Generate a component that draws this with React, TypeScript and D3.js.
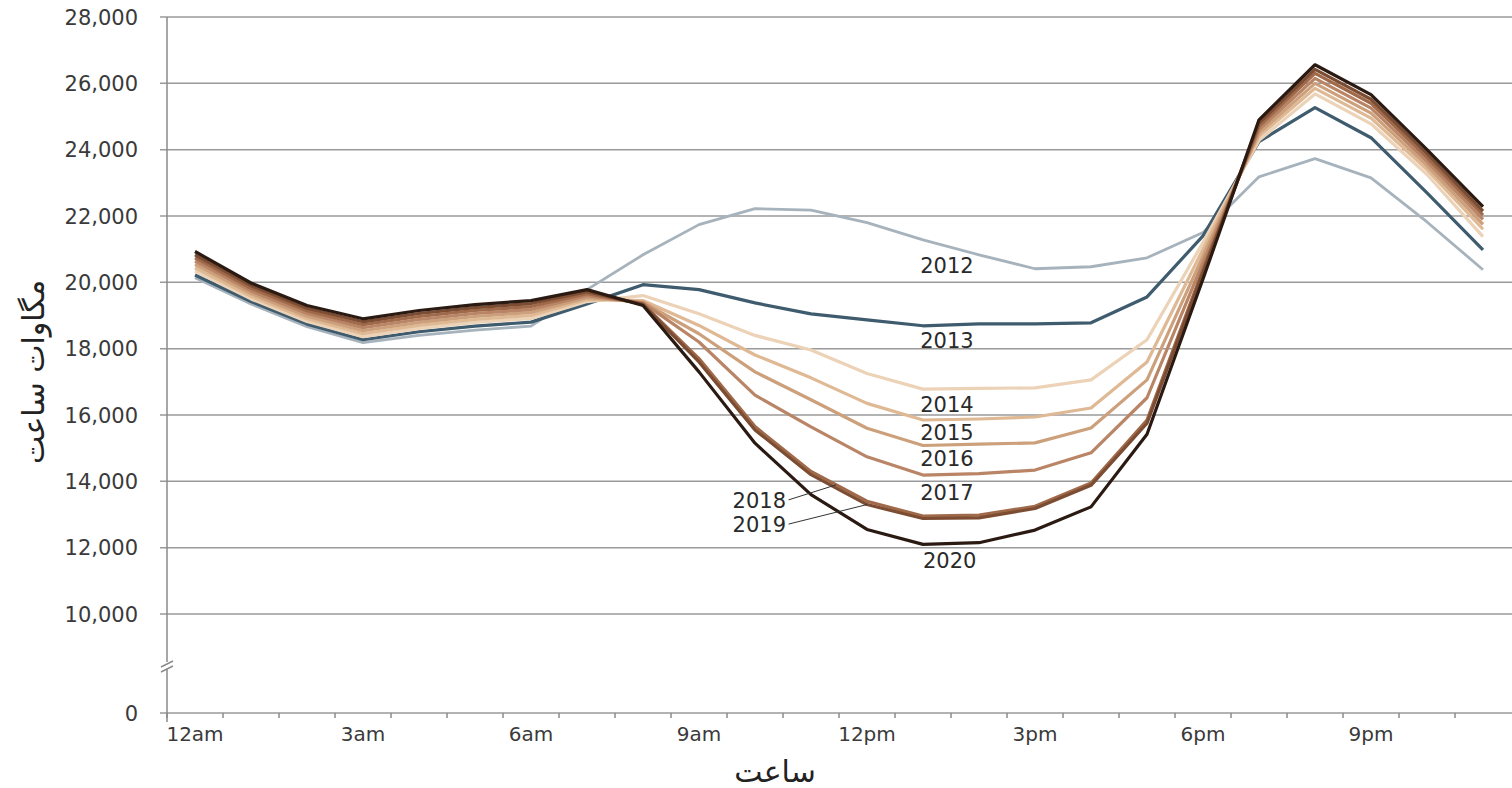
import { useEffect } from "react";
import * as d3 from "d3";

const HOURS = d3.range(24);
const HOUR_LABELS = ["12am", "3am", "6am", "9am", "12pm", "3pm", "6pm", "9pm"];
const Y_TICKS = [0, 10000, 12000, 14000, 16000, 18000, 20000, 22000, 24000, 26000, 28000];

const YEARS = ["2012", "2013", "2014", "2015", "2016", "2017", "2018", "2019", "2020"];

const load2012 = [20140, 19350, 18660, 18180, 18400, 18560, 18680, 19780, 20830, 21740, 22220, 22180, 21800, 21280, 20830, 20410, 20470, 20740, 21500, 23180, 23730, 23150, 21820, 20380];
const load2013 = [20220, 19420, 18740, 18270, 18510, 18680, 18800, 19350, 19930, 19780, 19380, 19050, 18870, 18690, 18750, 18750, 18780, 19560, 21400, 24240, 25270, 24360, 22700, 20980];
const load2014 = [20340, 19500, 18820, 18360, 18610, 18790, 18910, 19420, 19600, 19050, 18400, 17960, 17250, 16780, 16800, 16820, 17060, 18270, 21200, 24280, 25680, 24780, 23250, 21380];
const load2015 = [20440, 19580, 18900, 18450, 18700, 18880, 19000, 19480, 19450, 18700, 17810, 17120, 16350, 15850, 15880, 15940, 16210, 17600, 21000, 24400, 25850, 24950, 23400, 21600];
const load2016 = [20540, 19660, 18980, 18540, 18790, 18970, 19090, 19540, 19400, 18450, 17300, 16460, 15600, 15080, 15120, 15160, 15610, 17060, 20800, 24500, 26000, 25100, 23520, 21750];
const load2017 = [20640, 19740, 19060, 18630, 18880, 19060, 19180, 19600, 19380, 18200, 16600, 15640, 14740, 14190, 14230, 14340, 14860, 16520, 20600, 24600, 26150, 25250, 23640, 21900];
const load2018 = [20740, 19820, 19140, 18720, 18970, 19150, 19270, 19660, 19350, 17700, 15650, 14300, 13400, 12950, 12980, 13250, 13950, 15850, 20400, 24700, 26300, 25400, 23760, 22030];
const load2019 = [20830, 19900, 19220, 18810, 19060, 19240, 19360, 19720, 19330, 17600, 15550, 14200, 13300, 12880, 12900, 13180, 13880, 15750, 20300, 24800, 26420, 25520, 23880, 22150];
const load2020 = [20930, 19980, 19300, 18900, 19150, 19330, 19450, 19780, 19300, 17300, 15150, 13600, 12550, 12100, 12150, 12530, 13230, 15420, 20100, 24900, 26560, 25660, 24000, 22280];

const SERIES = [load2012, load2013, load2014, load2015, load2016, load2017, load2018, load2019, load2020];
const COLORS = ["#a7b3bc", "#3f5b6e", "#ecd2b6", "#dfb894", "#cda07c", "#b98566", "#a06a4a", "#7c4d33", "#2b1a12"];

// label anchors in data units: [hour, MW] (text start, baseline)
const LABEL_HOUR = [12.95, 12.95, 12.95, 12.95, 12.95, 12.95, 9.6, 9.6, 13.0];
const LABEL_MW = [20290, 18025, 16094, 15250, 14465, 13440, 13200, 12470, 11390];
// leader line targets for 2018, 2019
const LEADER_HOUR = [11.45, 12.0];

const W = 1512;
const H = 788;

export default function App() {
  useEffect(() => {
    document.body.style.margin = "0";
  }, []);

  const x = d3.scaleBand<number>().domain(HOURS).range([167, 1511]).padding(0);
  const bw = x.bandwidth();
  const px = (h: number) => (x(0) as number) + bw / 2 + h * bw;
  const y = d3.scaleLinear().domain([0, 10000, 28000]).range([713, 614, 17]);

  const line = d3
    .line<number>()
    .x((_, i) => px(i))
    .y((d) => y(d));

  const x0 = 167;
  const x1 = 1512;
  const font = "'DejaVu Sans', sans-serif";

  const interp = (arr: number[], h: number) => {
    const i = Math.floor(h);
    const t = h - i;
    return arr[i] * (1 - t) + arr[Math.min(i + 1, 23)] * t;
  };

  return (
    <svg width={W} height={H} style={{ position: "absolute", left: 0, top: 0, background: "#fff" }}>
      {/* grid */}
      {Y_TICKS.map((t) => (
        <g key={t}>
          <line x1={160} x2={x1} y1={y(t)} y2={y(t)} stroke="#9a9a9a" strokeWidth={1.5} />
          <text
            x={138}
            y={y(t)}
            dy="0.36em"
            textAnchor="end"
            fontFamily={font}
            fontSize={21}
            fill="#3a3a3a"
          >
            {d3.format(",")(t)}
          </text>
        </g>
      ))}
      {/* y axis */}
      <line x1={x0} x2={x0} y1={y(28000)} y2={722} stroke="#8a8a8a" strokeWidth={1.5} />
      {/* axis break */}
      <rect x={160} y={662} width={15} height={7} fill="#fff" />
      <line x1={161} x2={173} y1={667} y2={661} stroke="#8a8a8a" strokeWidth={1.5} />
      <line x1={161} x2={173} y1={672} y2={666} stroke="#8a8a8a" strokeWidth={1.5} />
      {/* x ticks */}
      {HOURS.map((h) => (
        <line
          key={h}
          x1={x(h) as number}
          x2={x(h) as number}
          y1={y(0)}
          y2={y(0) + 5}
          stroke="#8a8a8a"
          strokeWidth={1.5}
        />
      ))}
      {HOUR_LABELS.map((lab, i) => (
        <text
          key={lab}
          x={px(i * 3)}
          y={741}
          textAnchor="middle"
          fontFamily={font}
          fontSize={20}
          fill="#3a3a3a"
        >
          {lab}
        </text>
      ))}
      {/* series */}
      {SERIES.map((s, i) => (
        <path
          key={YEARS[i]}
          d={line(s) ?? ""}
          fill="none"
          stroke={COLORS[i]}
          strokeWidth={i === 0 ? 2.8 : 3.2}
          strokeLinejoin="round"
        />
      ))}
      {/* year labels */}
      {YEARS.map((yr, i) => (
        <text
          key={yr}
          x={px(LABEL_HOUR[i])}
          y={y(LABEL_MW[i])}
          fontFamily={font}
          fontSize={21}
          fill="#2a2a2a"
        >
          {yr}
        </text>
      ))}
      {LEADER_HOUR.map((h, j) => {
        const i = 6 + j;
        return (
          <line
            key={h}
            x1={px(LABEL_HOUR[i]) + 56}
            y1={y(LABEL_MW[i]) - 8}
            x2={px(h)}
            y2={y(interp(SERIES[i], h))}
            stroke="#333"
            strokeWidth={1}
          />
        );
      })}
      {/* axis titles */}
      <text
        x={775}
        y={782}
        textAnchor="middle"
        fontFamily={font}
        fontSize={30}
        fill="#222"
      >
        ساعت
      </text>
      <text
        transform="translate(44,372) rotate(-90)"
        textAnchor="middle"
        fontFamily={font}
        fontSize={30}
        fill="#222"
      >
        مگاوات ساعت
      </text>
    </svg>
  );
}
